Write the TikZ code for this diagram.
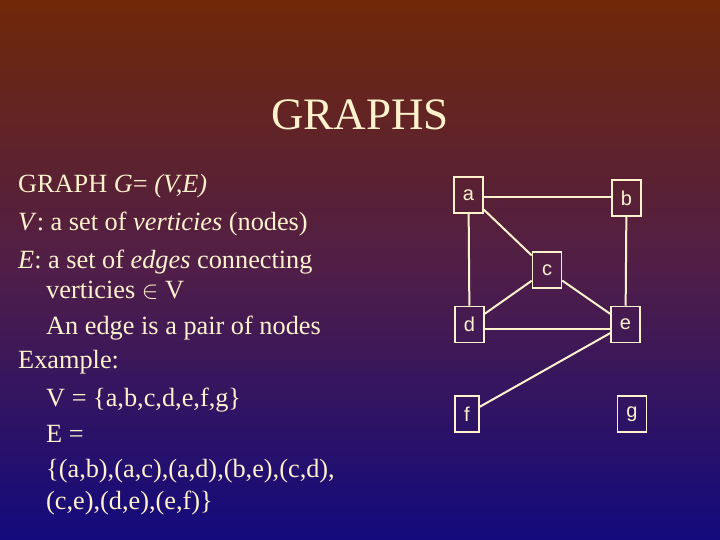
\documentclass[tikz,border=0pt]{standalone}
\usepackage{fontspec}
\setmainfont{Liberation Serif}
\newfontfamily\nodefont{Liberation Sans}
\definecolor{cream}{RGB}{255,242,205}
\definecolor{bgtop}{RGB}{112,40,8}
\definecolor{bgmid}{RGB}{80,30,72}
\definecolor{bgbot}{RGB}{18,10,125}
\begin{document}
\begin{tikzpicture}[x=1pt,y=1pt,
  vtx/.style={draw=cream,line width=1.5pt,text=cream,font=\nodefont\fontsize{20}{22}\selectfont,minimum width=29pt,minimum height=36pt,inner sep=0pt},
  edge/.style={draw=cream,line width=2pt},
  txt/.style={text=cream,anchor=base west,inner sep=0pt,font=\fontsize{26.3}{29}\selectfont}]
\shade[top color=bgtop,bottom color=bgbot,middle color=bgmid] (0,0) rectangle (720,540);
\useasboundingbox (0,0) rectangle (720,540);
\node[text=cream,font=\fontsize{45}{50}\selectfont] (title) at (360,425) {GRAPHS};
\node[txt] (l1) at (18,347) {GRAPH \textit{G}= \textit{(V,E)}};
\node[txt] (l2) at (18,309) {\textit{V}: a set of \textit{verticies} (nodes)};
\node[txt] (l3) at (18,271) {\textit{E}: a set of \textit{edges} connecting};
\node[txt] (l4) at (46,241) {verticies $\in$ V};
\node[txt] (l5) at (46,205) {An edge is a pair of nodes};
\node[txt] (l6) at (18,171) {Example:};
\node[txt] (l7) at (46,133) {V = \{a,b,c,d,e,f,g\}};
\node[txt] (l8) at (46,97) {E =};
\node[txt] (l9) at (46,62) {\{(a,b),(a,c),(a,d),(b,e),(c,d),};
\node[txt] (l10) at (46,30) {(c,e),(d,e),(e,f)\}};
\node[vtx] (a) at (468.5,345) {a};
\node[vtx] (b) at (626.5,342) {b};
\node[vtx] (c) at (547,270) {c};
\node[vtx] (d) at (469.5,215.5) {d};
\node[vtx] (e) at (625.5,215.5) {e};
\node[vtx,minimum width=24pt] (f) at (467,126) {f};
\node[vtx] (g) at (632,126) {g};
\draw[edge] (a.east|-0,343) -- (b.west|-0,343);
\draw[edge] (a) -- (c);
\draw[edge] (a) -- (d);
\draw[edge] (b) -- (e);
\draw[edge] (c) -- (d);
\draw[edge] (c) -- (e);
\draw[edge] (d.east|-0,211) -- (e.west|-0,211);
\draw[edge] (e) -- (f);
\end{tikzpicture}
\end{document}
